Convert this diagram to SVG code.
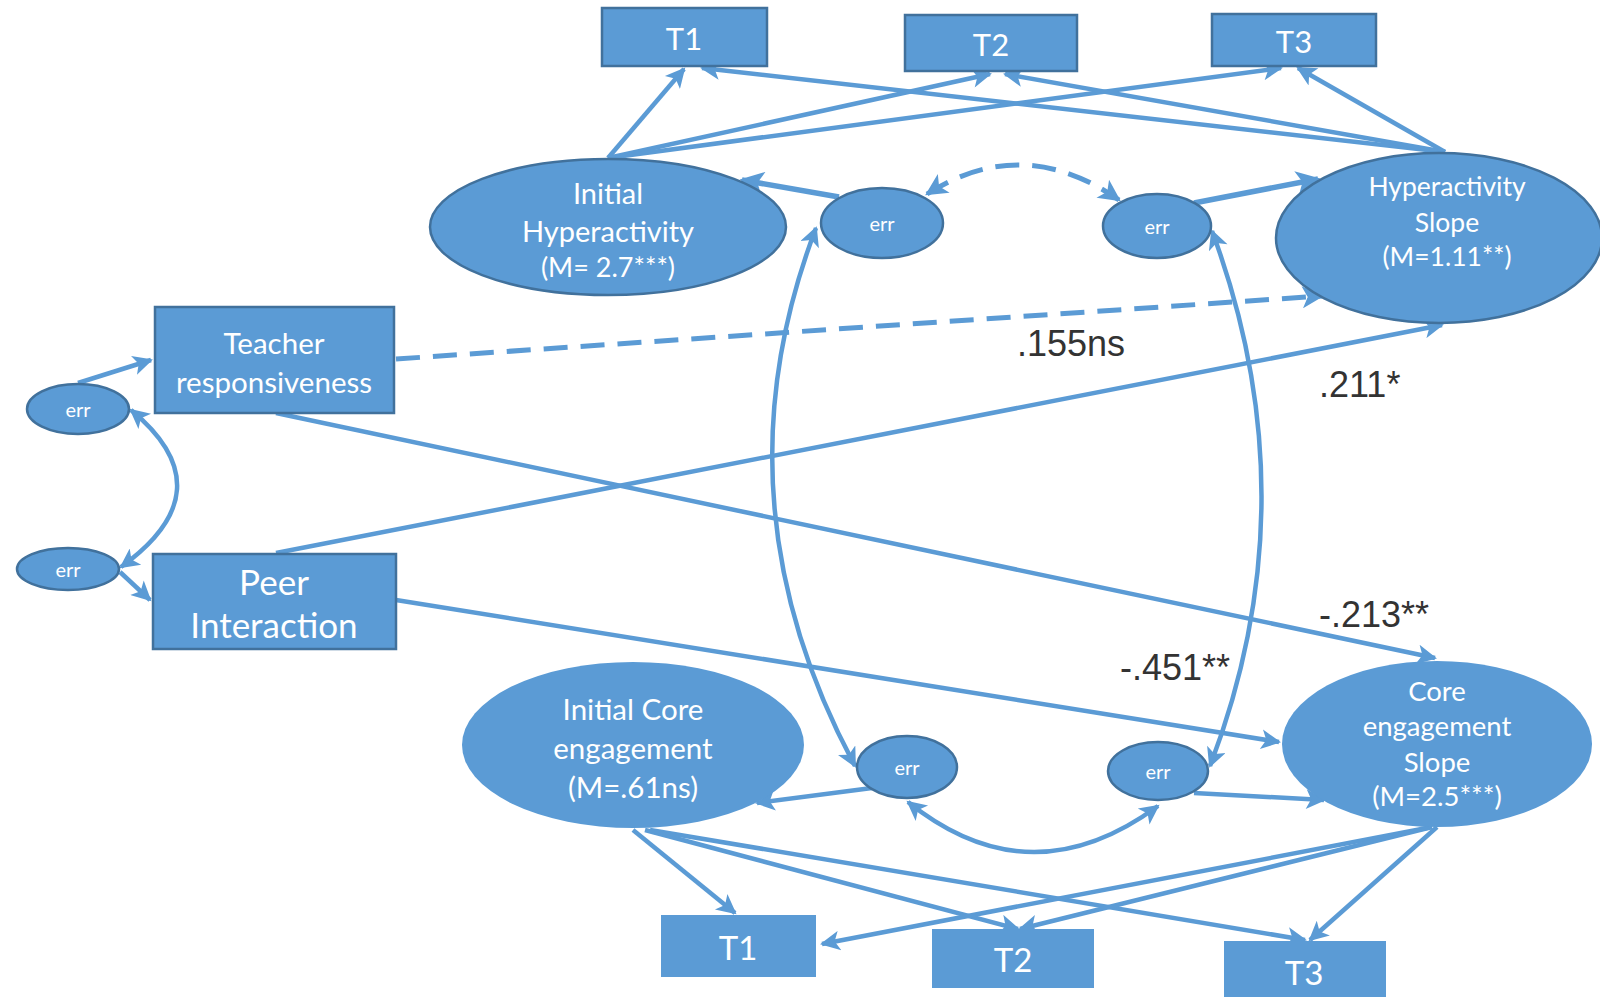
<svg xmlns="http://www.w3.org/2000/svg" width="1600" height="997" viewBox="0 0 1600 997">
<style>
.n{fill:#5B9BD5;stroke:#41719C;stroke-width:2.5}
.nb{fill:#5B9BD5;stroke:none}
.t{fill:#fff;font-family:Lato,"Open Sans",sans-serif;text-anchor:middle;dominant-baseline:central}
.c{fill:none;stroke:#5B9BD5;stroke-width:4.5;marker-end:url(#ah)}
.d{fill:none;stroke:#5B9BD5;stroke-width:4.5;marker-end:url(#ah);marker-start:url(#ah)}
.dash{stroke-dasharray:24 13;stroke-width:5}
.thk{stroke-width:5.5}
.lb{fill:#333;font-family:"Liberation Sans",Arial,sans-serif;font-size:36px}
</style>
<defs>
<marker id="ah" viewBox="0 0 10 10" refX="9" refY="5" markerWidth="5" markerHeight="4.4" orient="auto-start-reverse" markerUnits="strokeWidth">
<path d="M0,0 L10,5 L0,10 L2.5,5 Z" fill="#5B9BD5"/>
</marker>
</defs>
<rect width="1600" height="997" fill="#fff"/>
<g id="connectors">
<path class="c" d="M608,158 L684,69"/>
<path class="c" d="M608,158 L990,74"/>
<path class="c" d="M608,158 L1281,68"/>
<path class="c" d="M1445,152 L702,68"/>
<path class="c" d="M1445,152 L1005,74"/>
<path class="c" d="M1445,152 L1298,68"/>
<path class="c thk" d="M839,197 L742,180"/>
<path class="c thk" d="M1194,203 L1318,179"/>
<path class="d dash" d="M927,194 Q1023,133 1119,200"/>
<path class="c dash" d="M396,359 L1322,296"/>
<path class="c" d="M276,553 L1442,325"/>
<path class="c" d="M276,413 L1435,658"/>
<path class="c" d="M396,600 L1279,742"/>
<path class="c" d="M78,383 L151,360"/>
<path class="c" d="M120,572 L150,600"/>
<path class="d" d="M131,410 Q228,490 121,567"/>
<path class="d" d="M816,228 Q712,500 855,766"/>
<path class="d" d="M1212,231 Q1312,500 1210,766"/>
<path class="d" d="M908,802 Q1030,900 1158,806"/>
<path class="c" d="M872,788 L757,803"/>
<path class="c" d="M1194,793 L1324,800"/>
<path class="c" d="M633,830 L735,913"/>
<path class="c" d="M645,830 L1018,929"/>
<path class="c" d="M650,830 L1305,940"/>
<path class="c" d="M1432,827 L822,944"/>
<path class="c" d="M1432,827 L1020,929"/>
<path class="c" d="M1437,827 L1310,940"/>
</g>
<g id="top_T1"><rect class="n" x="602" y="8" width="165" height="58"/><text class="t" x="684" y="38" font-size="31">T1</text></g>
<g id="top_T2"><rect class="n" x="905" y="15" width="172" height="56"/><text class="t" x="991" y="44" font-size="31">T2</text></g>
<g id="top_T3"><rect class="n" x="1212" y="14" width="164" height="52"/><text class="t" x="1294" y="41" font-size="31">T3</text></g>
<g id="initial_hyperactivity"><ellipse class="n" cx="608" cy="227" rx="178" ry="68"/>
<text class="t" font-size="29" x="608" y="192">Initial</text><text class="t" font-size="29" x="608" y="230">Hyperactivity</text><text class="t" font-size="27" x="608" y="266">(M= 2.7***)</text></g>
<g id="err_h1"><ellipse class="n" cx="882" cy="223" rx="61" ry="35"/><text class="t" font-size="20" x="882" y="223">err</text></g>
<g id="err_h2"><ellipse class="n" cx="1157" cy="226" rx="54" ry="32"/><text class="t" font-size="20" x="1157" y="226">err</text></g>
<g id="hyperactivity_slope"><ellipse class="n" cx="1439" cy="238" rx="163" ry="85"/>
<text class="t" font-size="26.5" x="1447" y="186">Hyperactivity</text><text class="t" font-size="26.5" x="1447" y="222">Slope</text><text class="t" font-size="26.5" x="1447" y="256">(M=1.11**)</text></g>
<g id="teacher"><rect class="n" x="155" y="307" width="239" height="106"/>
<text class="t" font-size="29.5" x="274" y="342">Teacher</text><text class="t" font-size="29.5" x="274" y="381">responsiveness</text></g>
<g id="peer"><rect class="n" x="153" y="554" width="243" height="95"/>
<text class="t" font-size="35" x="274" y="581">Peer</text><text class="t" font-size="35" x="274" y="624">Interaction</text></g>
<g id="err_t"><ellipse class="n" cx="78" cy="409" rx="51" ry="25"/><text class="t" font-size="20" x="78" y="409">err</text></g>
<g id="err_p"><ellipse class="n" cx="68" cy="569" rx="51" ry="21"/><text class="t" font-size="20" x="68" y="569">err</text></g>
<g id="initial_core"><ellipse class="nb" cx="633" cy="745" rx="171" ry="83"/>
<text class="t" font-size="29.5" x="633" y="708">Initial Core</text><text class="t" font-size="29.5" x="633" y="747">engagement</text><text class="t" font-size="29.5" x="633" y="786">(M=.61ns)</text></g>
<g id="err_c1"><ellipse class="n" cx="907" cy="767" rx="50" ry="31"/><text class="t" font-size="20" x="907" y="767">err</text></g>
<g id="err_c2"><ellipse class="n" cx="1158" cy="771" rx="50" ry="29"/><text class="t" font-size="20" x="1158" y="771">err</text></g>
<g id="core_slope"><ellipse class="nb" cx="1437" cy="744" rx="155" ry="83"/>
<text class="t" font-size="27.5" x="1437" y="690">Core</text><text class="t" font-size="27.5" x="1437" y="725">engagement</text><text class="t" font-size="27.5" x="1437" y="761">Slope</text><text class="t" font-size="27.5" x="1437" y="795">(M=2.5***)</text></g>
<g id="bot_T1"><rect class="nb" x="661" y="915" width="155" height="62"/><text class="t" x="738" y="947" font-size="33">T1</text></g>
<g id="bot_T2"><rect class="nb" x="932" y="929" width="162" height="59"/><text class="t" x="1013" y="959" font-size="33">T2</text></g>
<g id="bot_T3"><rect class="nb" x="1224" y="941" width="162" height="60"/><text class="t" x="1304" y="972" font-size="33">T3</text></g>
<g id="labels">
<text class="lb" x="1017" y="356">.155ns</text>
<text class="lb" x="1319" y="397">.211*</text>
<text class="lb" x="1319" y="627">-.213**</text>
<text class="lb" x="1120" y="680">-.451**</text>
</g>
</svg>
